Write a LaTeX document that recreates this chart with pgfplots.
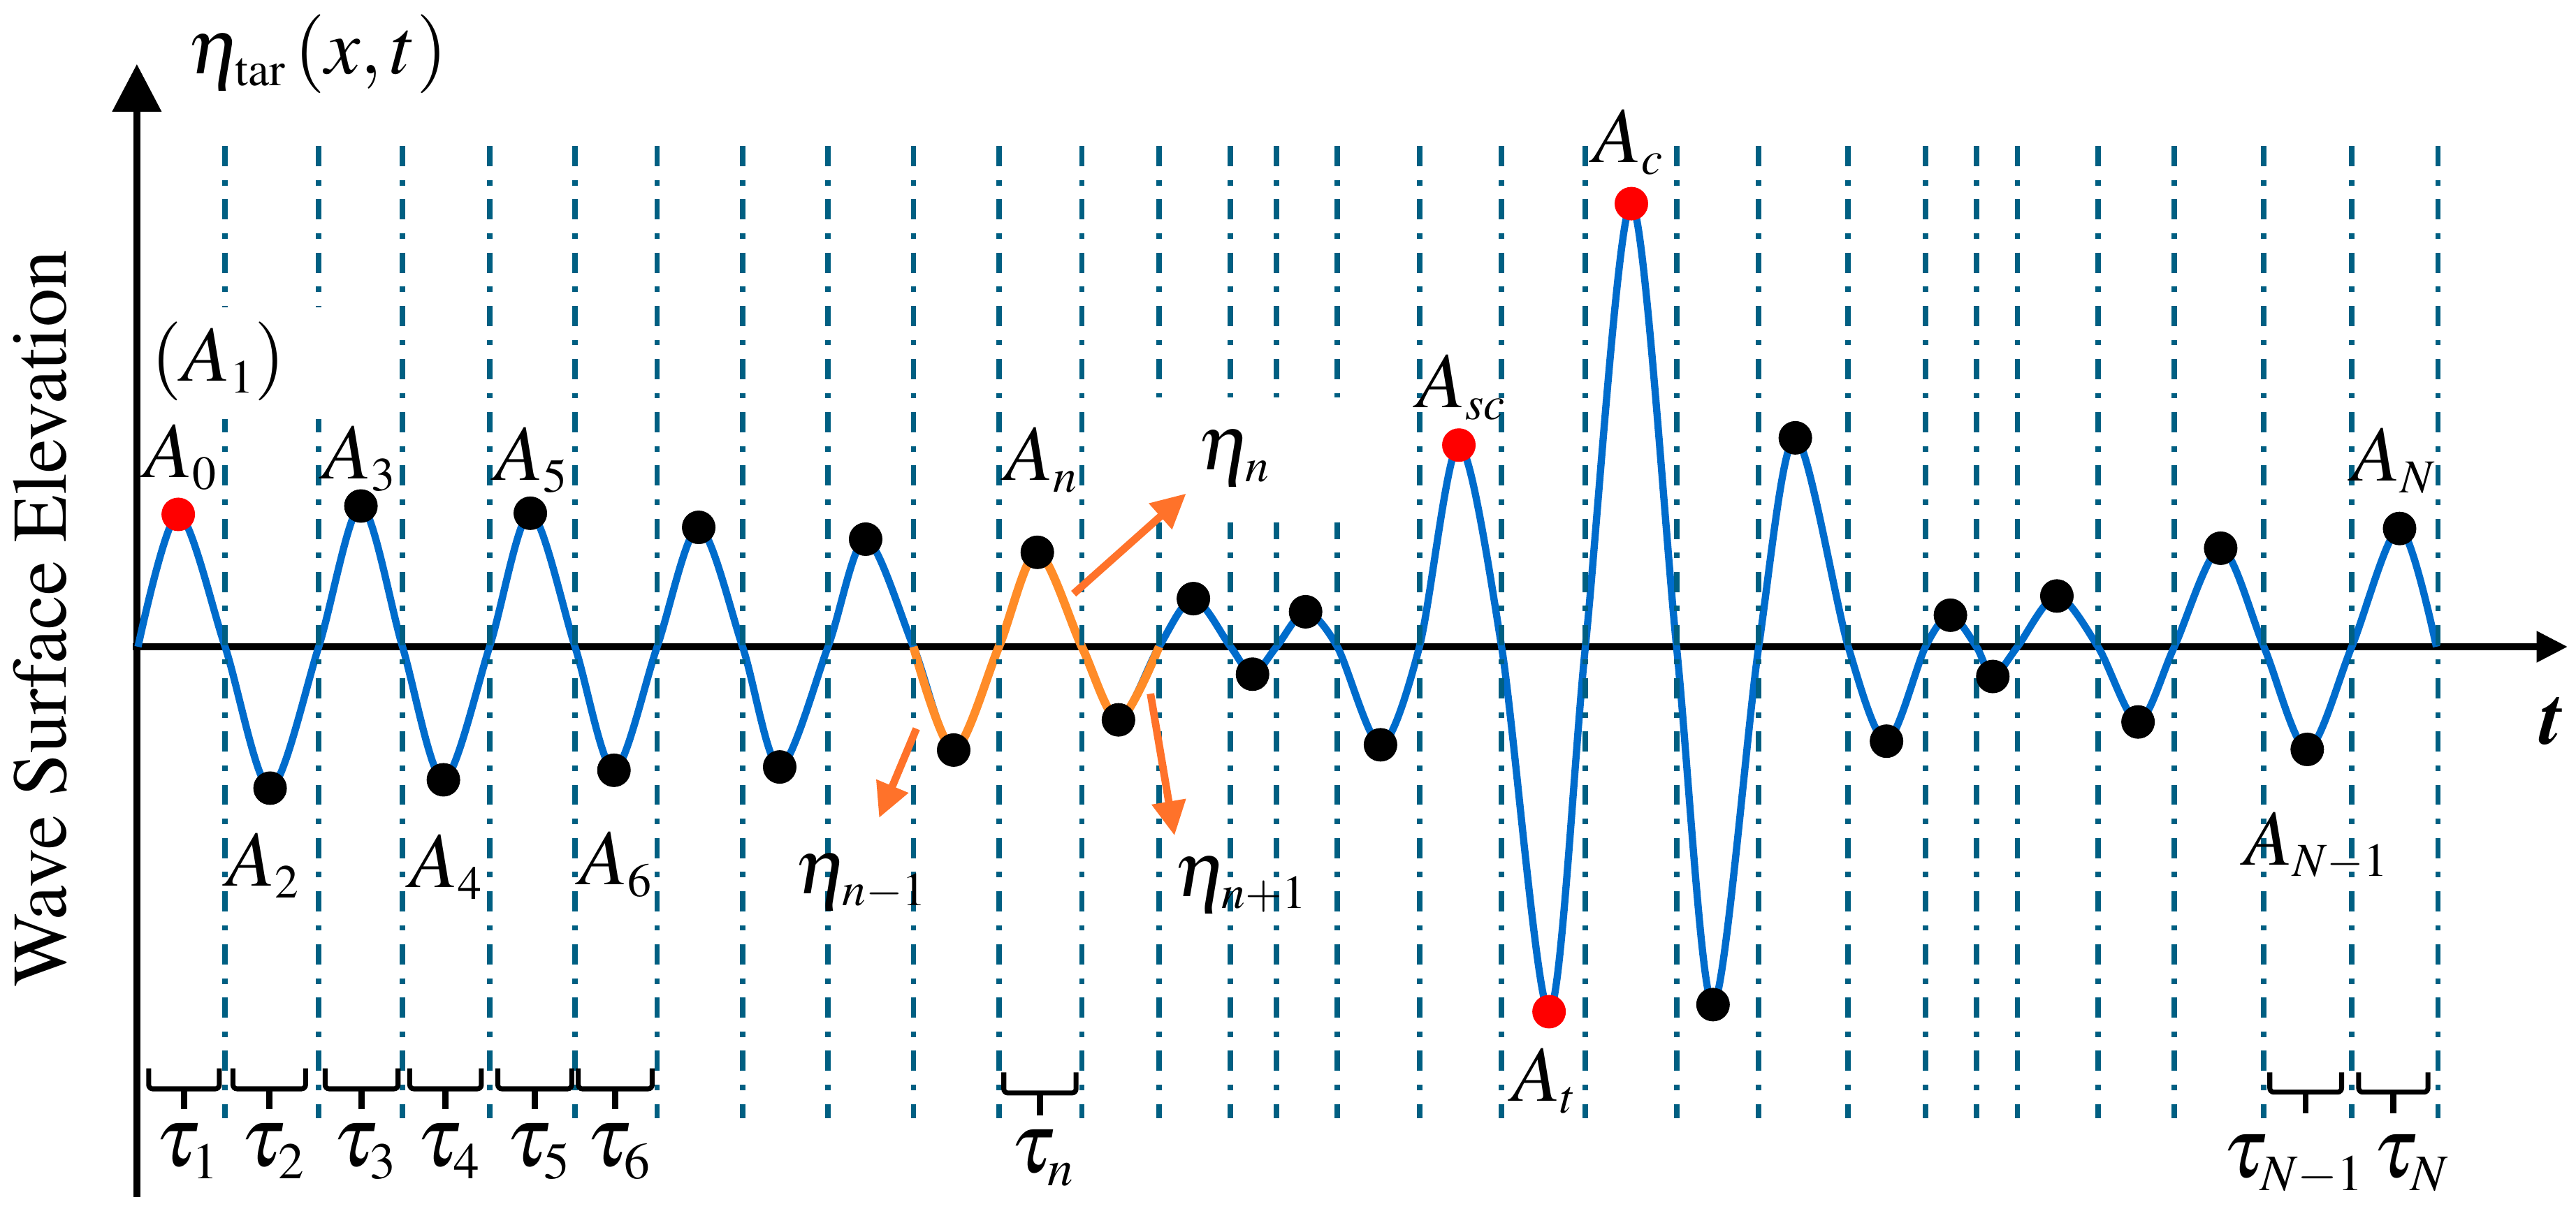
\documentclass[border=0pt]{standalone}
\usepackage[T1]{fontenc}
\usepackage{mathptmx}
\usepackage{pgfplots}
\pgfplotsset{compat=1.18}
\usetikzlibrary{arrows.meta}
\renewcommand\defaultscriptratio{.6}
\renewcommand\defaultscriptscriptratio{.45}

\definecolor{wave}{RGB}{0,108,204}
\definecolor{gridc}{RGB}{0,95,130}
\definecolor{seg}{RGB}{255,140,40}
\definecolor{arr}{RGB}{255,114,42}

\tikzset{
  lab/.style={font=\fontsize{48}{52}\selectfont, inner sep=0pt, anchor=base},
  tlab/.style={font=\fontsize{52}{56}\selectfont, inner sep=0pt, anchor=base},
  ptr/.style={arr, line width=4.6pt, -{Triangle[length=21pt,width=20pt]}},
}

% brace under one interval: x1, x2, arm top, bar, stem end
\newcommand\tbrace[5]{%
  \draw[line width=3pt, rounded corners=2.5pt] (axis cs:#1,#3) -- (axis cs:#1,#4) -- (axis cs:#2,#4) -- (axis cs:#2,#3);
  \draw[line width=3.6pt] (axis cs:{(#1+#2)/2},#4) -- (axis cs:{(#1+#2)/2},#5);}

\begin{document}
\begin{tikzpicture}
\path (0,0) rectangle (1568pt,736pt);
\begin{axis}[
    at={(0pt,0pt)}, anchor=south west,
    width=1568pt, height=736pt, scale only axis,
    xmin=0, xmax=1568, ymin=0, ymax=736, y dir=reverse,
    hide axis, clip=false,
]

% axes
\draw[line width=4.4pt, -{Triangle[length=29pt,width=29pt]}] (axis cs:83.3,729) -- (axis cs:83.3,39);
\draw[line width=4.4pt, -{Triangle[length=19pt,width=18pt]}] (axis cs:81,393.8) -- (axis cs:1563,393.8);

% surface elevation
\addplot[wave, line width=4.4pt, smooth] coordinates {
  (84,393.8) (108.5,313.2) (137,393.8) (164.4,479.9) (194,393.8) (219.7,308.1)
  (245,393.8) (269.9,474.8) (298,393.8) (322.8,312.5) (350,393.8) (373.7,469)
  (400,393.8) (425.3,321.1) (452,393.8) (474.6,467) (504,393.8) (526.9,328.3)
  (556,393.8) (580.5,456.7) (608,393.8) (631.4,336.3) (658.5,393.8) (680.8,438.3)
  (705.5,393.8) (726.4,364.5) (749,393.8) (762.4,410.5) (777,393.8) (794.7,372.5)
  (814,393.8) (840.3,453.5) (864,393.8) (888,271) (914,393.8) (942.9,616)
  (965,393.8) (993,124) (1020.5,393.8) (1042.7,611.7) (1070.5,393.8) (1092.8,266.6)
  (1125,393.8) (1148.3,451.3) (1172,393.8) (1187.2,374.6) (1203,393.8) (1213,411.9)
  (1228,393.8) (1252,362.9) (1277,393.8) (1301.4,439.6) (1323.5,393.8) (1351.7,333.8)
  (1378,393.8) (1404.4,456.3) (1431.5,393.8) (1460.6,321.8) (1483,393.8)
};
\addplot[seg, line width=5.2pt, smooth] coordinates {
  (556,393.8) (580.5,456.7) (608,393.8) (631.4,336.3) (658.5,393.8) (680.8,438.3) (705.5,393.8)
};

% zero-crossing lines
\pgfplotsinvokeforeach{137,194,245,298,350,400,452,504,556,608,658.5,705.5,749,777,814,864,914,965,1020.5,1070.5,1125,1172,1203,1228,1277,1323.5,1378,1431.5,1484}{
  \addplot[gridc, line width=3.3pt, dash pattern=on 12.3pt off 8.4pt on 3.3pt off 8.4pt] coordinates {(#1,89) (#1,681)};
}
\fill[white] (axis cs:128,187) rectangle (axis cs:203,255);
\fill[white] (axis cs:696,242) rectangle (axis cs:824,318);

% extremes
\addplot[only marks, mark=*, mark size=10pt, black] coordinates {
  (164.4,479.9) (219.7,308.1) (269.9,474.8) (322.8,312.5) (373.7,469) (425.3,321.1)
  (474.6,467) (526.9,328.3) (580.5,456.7) (631.4,336.3) (680.8,438.3) (726.4,364.5)
  (762.4,410.5) (794.7,372.5) (840.3,453.5) (1042.7,611.7) (1092.8,266.6) (1148.3,451.3)
  (1187.2,374.6) (1213,411.9) (1252,362.9) (1301.4,439.6) (1351.7,333.8) (1404.4,456.3)
  (1460.6,321.8)
};
\addplot[only marks, mark=*, mark size=10pt, red] coordinates {
  (108.5,313.2) (888,271) (942.9,616) (993,124)
};

% orange pointers
\draw[ptr] (axis cs:653.5,361.5) -- (axis cs:722,300.5);
\draw[ptr] (axis cs:557.8,443.7) -- (axis cs:535.1,498);
\draw[ptr] (axis cs:700.3,422.4) -- (axis cs:714.9,508.8);

% braces
\tbrace{90.5}{133.5}{650.5}{663}{675.5}
\tbrace{141.8}{186}{650.5}{663}{675.5}
\tbrace{197.9}{242.3}{650.5}{663}{675.5}
\tbrace{249.4}{293}{650.5}{663}{675.5}
\tbrace{303}{348}{650.5}{663}{675.5}
\tbrace{352}{397}{650.5}{663}{675.5}
\tbrace{611}{655}{653}{665.5}{679}
\tbrace{1381.6}{1425.3}{653}{665}{678}
\tbrace{1435.7}{1477.9}{653}{665}{678}

% labels
\node[rotate=90, anchor=base, inner sep=0pt, font=\fontsize{47}{50}\selectfont] at (axis cs:40,376.5) {Wave Surface Elevation};
\node[lab, anchor=base west] at (axis cs:114,45) {$\eta_{\mathrm{tar}}\,(x,t)$};
\node[lab] at (axis cs:133,232) {$(A_1)$};
\node[lab] at (axis cs:110,290.5) {$A_0$};
\node[lab] at (axis cs:219,291.7) {$A_3$};
\node[lab] at (axis cs:323.5,292.2) {$A_5$};
\node[lab] at (axis cs:160,539.3) {$A_2$};
\node[lab] at (axis cs:271.6,540.3) {$A_4$};
\node[lab] at (axis cs:375,538.5) {$A_6$};
\node[lab] at (axis cs:633.7,292.3) {$A_n$};
\node[lab] at (axis cs:751,286) {$\eta_n$};
\node[lab] at (axis cs:524,544) {$\eta_{n-1}$};
\node[lab] at (axis cs:755,546) {$\eta_{n+1}$};
\node[lab] at (axis cs:889.5,248) {$A_{sc}$};
\node[lab] at (axis cs:991,98.9) {$A_c$};
\node[lab] at (axis cs:940,670.5) {$A_t$};
\node[lab] at (axis cs:1457,292.8) {$A_N$};
\node[lab] at (axis cs:1410,526.5) {$A_{N-1}$};
\node[lab] at (axis cs:1553,453) {\textbf{\textit{t}}};
\node[tlab] at (axis cs:114,710) {$\tau_1$};
\node[tlab] at (axis cs:166,710) {$\tau_2$};
\node[tlab] at (axis cs:222,710) {$\tau_3$};
\node[tlab] at (axis cs:273,710) {$\tau_4$};
\node[tlab] at (axis cs:327.5,710) {$\tau_5$};
\node[tlab] at (axis cs:376.5,710) {$\tau_6$};
\node[tlab] at (axis cs:634.5,714) {$\tau_n$};
\node[tlab] at (axis cs:1396,717) {$\tau_{N-1}$};
\node[tlab] at (axis cs:1467.5,717) {$\tau_N$};

\end{axis}
\end{tikzpicture}
\end{document}
